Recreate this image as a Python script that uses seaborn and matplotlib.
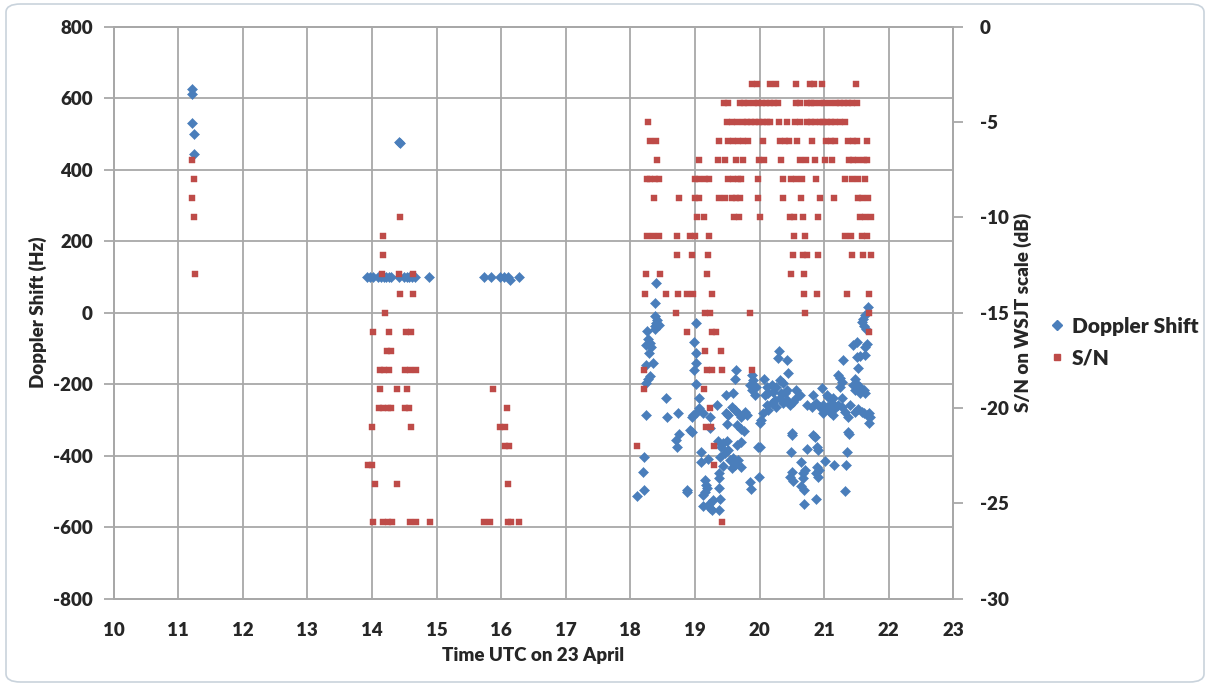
import matplotlib
matplotlib.use("Agg")
import matplotlib.pyplot as plt
from matplotlib.lines import Line2D
from matplotlib.patches import FancyBboxPatch
import seaborn as sns
import pandas as pd

# ---------------- data ----------------
# Doppler shift (Hz) vs time (UTC hours), as (time, Hz) pairs
doppler_11h = [(11.22, 625), (11.21, 611), (11.22, 530), (11.24, 499), (11.24, 444)]
doppler_14h = [(13.92, 100), (13.97, 100), (14.02, 100), (14.10, 100), (14.14, 100),
               (14.18, 100), (14.22, 100), (14.27, 100), (14.30, 100), (14.42, 100),
               (14.50, 100), (14.54, 100), (14.58, 100), (14.62, 100), (14.67, 100),
               (14.88, 100), (14.42, 476), (14.44, 474)]
doppler_16h = [(15.74, 100), (15.85, 100), (15.98, 100), (16.05, 100), (16.10, 100),
               (16.14, 90), (16.28, 100)]
doppler_18h = [(18.40, 84), (18.39, 27), (18.38, -10), (18.42, -20), (18.40, -28),
               (18.39, -37), (18.45, -34), (18.38, -47), (18.26, -52), (18.27, -75),
               (18.30, -85), (18.32, -96), (18.25, -90), (18.29, -114), (18.35, -142),
               (18.24, -147), (18.30, -178), (18.27, -187), (18.25, -196), (18.56, -238),
               (18.99, -82), (18.99, -161), (18.24, -286), (18.57, -293), (18.74, -280),
               (18.93, -328), (18.95, -333), (18.75, -340), (18.71, -356), (18.72, -375),
               (18.10, -514), (18.21, -405), (18.19, -445), (18.21, -497), (18.87, -496),
               (18.88, -501), (18.97, -286), (18.95, -293)]
doppler_19h = [(19.01, -28), (19.02, -114), (19.01, -142), (19.02, -200), (19.06, -238),
               (19.63, -161), (19.62, -187), (19.59, -224), (19.48, -231), (19.88, -175),
               (19.90, -189), (19.86, -203), (19.89, -217), (19.93, -231), (19.07, -268),
               (19.03, -277), (19.12, -282), (19.10, -389), (19.09, -419), (19.20, -409),
               (19.15, -468), (19.17, -482), (19.19, -491), (19.15, -503), (19.13, -510),
               (19.12, -540), (19.23, -547), (19.26, -553), (19.22, -535), (19.28, -525),
               (19.38, -551), (19.38, -491), (19.39, -521), (19.37, -463), (19.38, -449),
               (19.34, -258), (19.24, -291), (19.23, -324), (19.36, -360), (19.44, -365),
               (19.49, -360), (19.41, -375), (19.51, -384), (19.46, -393), (19.39, -403),
               (19.54, -412), (19.59, -407), (19.67, -412), (19.62, -426), (19.72, -433),
               (19.58, -435), (19.44, -429), (19.57, -263), (19.62, -272), (19.67, -282),
               (19.72, -291), (19.77, -277), (19.80, -286), (19.51, -286), (19.48, -282),
               (19.50, -313), (19.65, -314), (19.71, -326), (19.76, -330), (19.72, -361),
               (19.65, -370), (19.85, -473), (19.87, -494), (19.99, -461), (19.98, -375),
               (19.95, -207)]
doppler_20h = [(20.01, -377), (20.01, -310), (20.03, -300), (20.07, -187), (20.30, -108),
               (20.29, -128), (20.43, -133), (20.44, -168), (20.32, -189), (20.37, -198),
               (20.26, -207), (20.42, -217), (20.34, -226), (20.21, -221), (20.13, -226),
               (20.11, -207), (20.19, -203), (20.57, -217), (20.83, -231), (20.96, -212),
               (20.06, -282), (20.13, -272), (20.11, -258), (20.19, -254), (20.24, -245),
               (20.26, -263), (20.32, -240), (20.37, -254), (20.42, -245), (20.47, -258),
               (20.52, -249), (20.39, -226), (20.08, -231), (20.62, -231), (20.57, -240),
               (20.50, -336), (20.51, -342), (20.49, -389), (20.50, -445), (20.47, -459),
               (20.52, -472), (20.64, -417), (20.73, -382), (20.68, -449), (20.67, -463),
               (20.65, -485), (20.69, -496), (20.70, -440), (20.69, -536), (20.88, -521),
               (20.83, -342), (20.86, -349), (20.89, -375), (20.90, -384), (20.89, -432),
               (20.92, -440), (20.90, -459), (20.88, -449), (20.81, -263), (20.73, -258),
               (20.88, -254), (20.94, -263), (20.99, -258), (20.99, -282)]
doppler_21h = [(21.06, -235), (21.30, -133), (21.22, -175), (21.25, -184), (21.27, -193),
               (21.24, -207), (21.45, -91), (21.51, -82), (21.63, -96), (21.66, -88),
               (21.51, -125), (21.55, -122), (21.63, -119), (21.53, -156), (21.48, -185),
               (21.50, -197), (21.55, -208), (21.61, -217), (21.48, -217), (21.63, -226),
               (21.68, 16), (21.63, -7), (21.60, -17), (21.58, -26), (21.61, -38),
               (21.65, -47), (21.01, -414), (21.04, -263), (21.12, -254), (21.17, -268),
               (21.14, -286), (21.09, -277), (21.22, -258), (21.27, -263), (21.32, -277),
               (21.40, -258), (21.48, -277), (21.37, -291), (21.07, -272), (21.04, -231),
               (21.14, -240), (21.27, -240), (21.45, -203), (21.55, -226), (21.37, -333),
               (21.39, -340), (21.35, -389), (21.16, -427), (21.34, -426), (21.33, -500),
               (21.69, -280), (21.71, -291), (21.66, -286), (21.69, -310), (21.61, -282),
               (21.53, -270), (21.58, -277)]

# S/N (dB, WSJT scale): times (UTC hours) at which each S/N level was reported
sn_levels = [-3, -4, -5, -6, -7, -8, -9, -10, -11, -12, -13, -14, -15, -16,
             -17, -18, -19, -20, -21, -22, -23, -24, -26]
sn_m3 = [19.89, 19.96, 20.17, 20.26, 20.57, 20.78, 20.85, 20.97, 21.49]
sn_m4 = [19.45, 19.51, 19.70, 19.76, 19.82, 19.91, 19.97, 20.04, 20.10, 20.16, 20.22,
         20.29, 20.56, 20.63, 20.74, 20.80, 20.85, 20.94, 21.00, 21.09, 21.18, 21.25,
         21.31, 21.37, 21.43, 21.51]
sn_m5 = [18.28, 19.50, 19.57, 19.65, 19.75, 19.81, 19.87, 19.93, 19.99, 20.06, 20.12,
         20.17, 20.30, 20.42, 20.55, 20.63, 20.74, 20.80, 20.86, 20.93, 20.99, 21.05,
         21.11, 21.17, 21.25, 21.32]
sn_m6 = [18.30, 18.40, 19.37, 19.51, 19.59, 19.67, 19.75, 19.82, 20.05, 20.32, 20.39,
         20.46, 20.58, 20.82, 21.03, 21.10, 21.17, 21.37, 21.44, 21.51, 21.66]
sn_m7 = [11.22, 18.42, 19.06, 19.36, 19.46, 19.64, 19.74, 19.99, 20.07, 20.34, 20.62,
         20.72, 20.86, 21.01, 21.13, 21.38, 21.45, 21.52, 21.62, 21.67]
sn_m8 = [11.24, 18.26, 18.31, 18.39, 18.45, 19.00, 19.07, 19.15, 19.22, 19.51, 19.59,
         19.67, 19.72, 19.98, 20.37, 20.49, 20.56, 20.66, 20.88, 21.32, 21.43, 21.53, 21.63]
sn_m9 = [11.22, 18.37, 18.76, 19.00, 19.06, 19.37, 19.46, 19.57, 19.64, 19.70, 19.98,
         20.36, 20.64, 20.93, 21.16, 21.52, 21.59, 21.68]
sn_m10 = [11.24, 14.44, 19.03, 19.14, 19.61, 19.68, 20.00, 20.47, 20.53, 20.67, 20.90,
          21.56, 21.63, 21.72]
sn_m11 = [14.17, 18.26, 18.35, 18.44, 18.73, 18.93, 19.00, 19.22, 20.53, 20.71, 21.33,
          21.41, 21.59, 21.66]
sn_m12 = [14.17, 18.73, 18.95, 19.21, 20.52, 20.67, 20.74, 20.91, 21.43, 21.60, 21.73]
sn_m13 = [11.26, 14.15, 14.42, 14.63, 18.25, 18.46, 19.19, 20.48, 20.69]
sn_m14 = [14.43, 14.64, 18.23, 18.56, 18.74, 18.88, 18.97, 19.26, 20.69, 20.89, 21.35, 21.70]
sn_m15 = [14.21, 18.71, 19.16, 19.23, 19.86, 20.71, 21.69]
sn_m16 = [14.02, 14.26, 14.53, 14.60, 18.88, 19.26, 19.32, 21.70]
sn_m17 = [14.23, 14.29, 19.15, 19.40]
sn_m18 = [14.12, 14.19, 14.26, 14.52, 14.59, 14.68, 18.21, 19.19, 19.26, 19.42, 19.88]
sn_m19 = [14.12, 14.39, 14.55, 15.87, 18.21, 19.14]
sn_m20 = [14.11, 14.17, 14.25, 14.30, 14.51, 14.58, 16.09, 19.24]
sn_m21 = [14.00, 14.60, 15.99, 16.06, 19.17, 19.25]
sn_m22 = [16.06, 16.12, 18.10, 19.30]
sn_m23 = [13.94, 14.00, 19.30]
sn_m24 = [14.05, 14.39, 16.11]
sn_m26 = [14.02, 14.17, 14.25, 14.31, 14.59, 14.68, 14.90, 15.74, 15.83, 16.10, 16.15,
          16.27, 19.42]
sn_times = [sn_m3, sn_m4, sn_m5, sn_m6, sn_m7, sn_m8, sn_m9, sn_m10, sn_m11, sn_m12,
            sn_m13, sn_m14, sn_m15, sn_m16, sn_m17, sn_m18, sn_m19, sn_m20, sn_m21,
            sn_m22, sn_m23, sn_m24, sn_m26]

x_ticks = list(range(10, 24))
left_ticks = list(range(-800, 801, 200))
right_ticks = list(range(-30, 1, 5))

# ---------------- build tables ----------------
dop_pts = doppler_11h + doppler_14h + doppler_16h + doppler_18h + doppler_19h + doppler_20h + doppler_21h
dop_df = pd.DataFrame(dop_pts, columns=["time", "doppler"])
sn_rows = [(t, lvl) for lvl, ts in zip(sn_levels, sn_times) for t in ts]
sn_df = pd.DataFrame(sn_rows, columns=["time", "sn"])

# ---------------- style ----------------
sns.set_style("white")
plt.rcParams["font.family"] = ["Lato", "DejaVu Sans"]
plt.rcParams["font.weight"] = "bold"
plt.rcParams["axes.unicode_minus"] = False

BLUE = "#4A7EBB"
RED = "#BE4B48"
GRID = "#A8A8A8"
FS = 13.5
FW = "heavy"

fig = plt.figure(figsize=(12.10, 6.86), dpi=100)
fig.patch.set_facecolor("white")
ax = fig.add_axes([113.5 / 1210, 1 - 598.5 / 686, (953.3 - 113.5) / 1210, (598.5 - 26.7) / 686])
ax2 = ax.twinx()

sns.scatterplot(data=dop_df, x="time", y="doppler", ax=ax, marker="D", s=26,
                color=BLUE, edgecolor=BLUE, linewidth=0.4, zorder=3, legend=False)
sns.scatterplot(data=sn_df, x="time", y="sn", ax=ax2, marker="s", s=20,
                color=RED, edgecolor=RED, linewidth=0.3, zorder=3, legend=False)

ax.set_xlim(10, 23)
ax.set_ylim(-800, 800)
ax2.set_ylim(-30, 0)
ax.set_xticks(x_ticks)
ax.set_yticks(left_ticks)
ax2.set_yticks(right_ticks)

ax.grid(True, color=GRID, linewidth=1.3)
ax.set_axisbelow(True)
for a in (ax, ax2):
    for sp in a.spines.values():
        sp.set_color(GRID)
        sp.set_linewidth(1.3)
ax.tick_params(axis="both", which="both", direction="out", length=7, width=1.3,
               color=GRID, labelsize=FS)
ax.tick_params(axis="x", pad=10)
ax.tick_params(axis="y", pad=8)
ax2.tick_params(axis="y", direction="out", length=7, width=1.3, color=GRID,
                labelsize=FS, pad=12)
for lab in ax.get_xticklabels() + ax.get_yticklabels() + ax2.get_yticklabels():
    lab.set_fontweight(FW)

ax.set_xlabel("Time UTC on 23 April", fontsize=FS, fontweight=FW, labelpad=6)
ax.set_ylabel("Doppler Shift (Hz)", fontsize=FS, fontweight=FW, labelpad=4)
ax2.set_ylabel("S/N on WSJT scale (dB)", fontsize=FS, fontweight=FW, labelpad=4)

handles = [Line2D([], [], marker="D", linestyle="none", color=BLUE, markersize=5),
           Line2D([], [], marker="s", linestyle="none", color=RED, markersize=4.5)]
fig.legend(handles, ["Doppler Shift", "S/N"], loc="center left",
           bbox_to_anchor=(1028 / 1210, 1 - 342 / 686), frameon=False,
           prop={"size": 15, "weight": FW}, handletextpad=0.2, labelspacing=0.6,
           handlelength=1.0)

border = FancyBboxPatch((6 / 1210, 4 / 686), 1 - 12 / 1210, 1 - 8 / 686,
                        boxstyle="round,pad=0,rounding_size=0.012",
                        transform=fig.transFigure, facecolor="none",
                        edgecolor="#C9D3DC", linewidth=1.2)
fig.patches.append(border)

fig.savefig("out.png", dpi=100)
